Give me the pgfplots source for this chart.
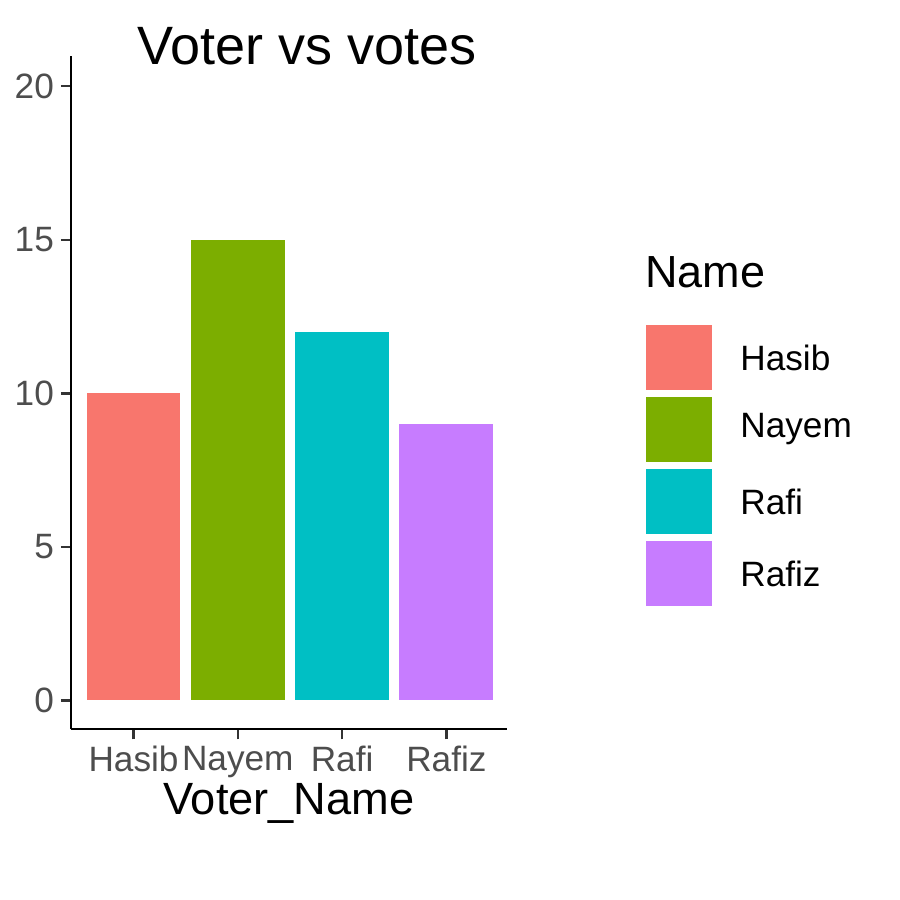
\documentclass[border=0pt]{standalone}
\usepackage{pgfplots}
\pgfplotsset{compat=1.18}
\usepackage{fontspec}
\setmainfont{Liberation Sans}
\definecolor{c1}{HTML}{F8766D}
\definecolor{c2}{HTML}{7CAE00}
\definecolor{c3}{HTML}{00BFC4}
\definecolor{c4}{HTML}{C77CFF}
\definecolor{tk}{HTML}{4D4D4D}
\begin{document}
\begin{tikzpicture}[x=1pt,y=1pt]
\useasboundingbox (0,0) rectangle (450,450);
\begin{axis}[at={(68,65)},anchor=origin, scale only axis,width=218pt,height=336.5pt,
 xmin=0.4,xmax=4.58,ymin=-0.94,ymax=20.98,
 axis x line*=bottom, axis y line*=left, axis line style={line width=1.2pt,-},
 xtick={1,2,3,4}, xticklabels={Hasib,Nayem,Rafi,Rafiz},
 ytick={0,5,10,15,20},
 tick style={black!80,line width=1.1pt}, major tick length=5pt,
 tick align=outside,
 ticklabel style={font=\fontsize{17.6}{20}\selectfont,text=tk},
 /pgf/number format/assume math mode=true,
 xlabel={Voter\_Name}, ylabel={Number of vots},
 label style={font=\fontsize{22.6}{26}\selectfont},
 xlabel style={yshift=4pt}, ylabel style={yshift=2pt},
 ybar, bar width=0.9, bar shift=0pt]
\addplot[fill=c1,draw=none] coordinates {(1,10)};
\addplot[fill=c2,draw=none] coordinates {(2,15)};
\addplot[fill=c3,draw=none] coordinates {(3,12)};
\addplot[fill=c4,draw=none] coordinates {(4,9)};
\end{axis}
\node[anchor=base west,font=\fontsize{27}{30}\selectfont,inner sep=0] at (68.5,417.5) {Voter vs votes};
\node[anchor=base west,font=\fontsize{22.5}{26}\selectfont,inner sep=0] at (322.5,306) {Name};
\foreach \c/\t/\i in {c1/Hasib/0,c2/Nayem/1,c3/Rafi/2,c4/Rafiz/3}{
 \fill[\c] (323,{287.5-36*\i}) rectangle (356,{255-36*\i});
 \node[anchor=west,font=\fontsize{17.6}{20}\selectfont,inner sep=0] at (370,{271.25-36*\i}) {\t};
}
\end{tikzpicture}
\end{document}
